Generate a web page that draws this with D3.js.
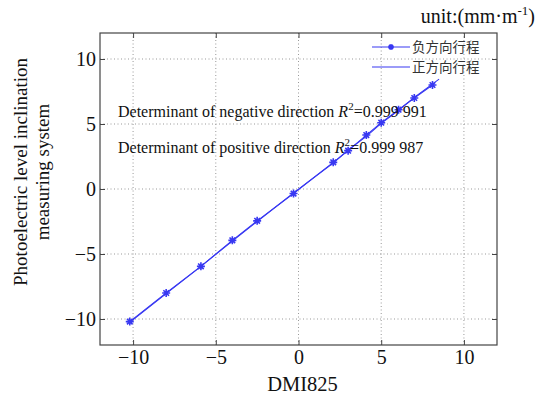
<!DOCTYPE html>
<html>
<head>
<meta charset="utf-8">
<script src="https://cdn.jsdelivr.net/npm/d3@7"></script>
<style>
  body { margin: 0; background: #fff; }
  svg { font-family: 'Liberation Serif', 'Times New Roman', serif; }
</style>
</head>
<body>
<svg id="chart" width="537" height="396"></svg>
<script>
// negative direction stroke (with markers)
const negX = [-10.2, -8.0, -5.9, -4.0, -2.5, -0.3, 2.1, 3.0, 4.1, 5.0, 6.05, 7.0, 8.1]
const negY = [-10.2, -8.0, -5.95, -3.95, -2.45, -0.35, 2.05, 2.95, 4.15, 5.1, 6.1, 7.0, 8.0]
// positive direction stroke (line only)
const posX = [-10.2, -8.0, -5.9, -4.0, -2.5, -0.3, 2.1, 3.0, 4.1, 5.0, 6.0, 7.0, 8.5]
const posY = [-10.25, -8.05, -5.95, -4.0, -2.5, -0.3, 2.0, 3.0, 4.05, 5.05, 6.0, 7.05, 8.45]

const xTicks = [-10, -5, 0, 5, 10]
const yTicks = [-10, -5, 0, 5, 10]
const seriesNames = ['负方向行程', '正方向行程']
const notes = [
  { label: 'Determinant of negative direction ', r2: '=0.999 991' },
  { label: 'Determinant of positive direction ', r2: '=0.999 987' }
]

const margin = { top: 33, right: 40, bottom: 51, left: 100 }
const width = 537 - margin.left - margin.right
const height = 396 - margin.top - margin.bottom
const blue = '#3838f2'

const svg = d3.select('#chart')
const g = svg.append('g')
  .attr('transform', 'translate(' + margin.left + ',' + margin.top + ')')

const x = d3.scaleLinear().domain([-12, 12]).range([0, width])
const y = d3.scaleLinear().domain([-12, 12]).range([height, 0])

// grid
g.append('g').selectAll('line')
  .data(xTicks).enter().append('line')
  .attr('x1', d => x(d)).attr('x2', d => x(d))
  .attr('y1', 0).attr('y2', height)
  .attr('stroke', '#999').attr('stroke-dasharray', '1,2.5')
g.append('g').selectAll('line')
  .data(yTicks).enter().append('line')
  .attr('y1', d => y(d)).attr('y2', d => y(d))
  .attr('x1', 0).attr('x2', width)
  .attr('stroke', '#999').attr('stroke-dasharray', '1,2.5')

// axes, ticks inward
const axisStyle = sel => {
  sel.select('.domain').remove()
  sel.selectAll('line').attr('stroke', '#444')
  sel.selectAll('text').attr('font-size', 20).attr('fill', '#111')
    .attr('font-family', 'Liberation Serif, serif')
}
const fmt = d => d < 0 ? '\u2212' + Math.abs(d) : '' + d

g.append('g').attr('transform', 'translate(0,' + height + ')')
  .call(d3.axisBottom(x).tickValues(xTicks).tickSizeInner(-5).tickSizeOuter(0).tickPadding(5).tickFormat(fmt))
  .call(axisStyle)
g.append('g')
  .call(d3.axisTop(x).tickValues(xTicks).tickSizeInner(-5).tickSizeOuter(0).tickFormat(''))
  .call(axisStyle)
g.append('g')
  .call(d3.axisLeft(y).tickValues(yTicks).tickSizeInner(-5).tickSizeOuter(0).tickPadding(4).tickFormat(fmt))
  .call(axisStyle)
g.append('g').attr('transform', 'translate(' + width + ',0)')
  .call(d3.axisRight(y).tickValues(yTicks).tickSizeInner(-5).tickSizeOuter(0).tickFormat(''))
  .call(axisStyle)

g.append('rect')
  .attr('width', width).attr('height', height)
  .attr('fill', 'none').attr('stroke', '#444').attr('stroke-width', 1.2)

// series
const line = d3.line().x(d => x(d[0])).y(d => y(d[1]))
const posData = posX.map((v, i) => [v, posY[i]])
const negData = negX.map((v, i) => [v, negY[i]])

g.append('path').datum(posData)
  .attr('d', line).attr('fill', 'none')
  .attr('stroke', blue).attr('stroke-width', 1.1)
g.append('path').datum(negData)
  .attr('d', line).attr('fill', 'none')
  .attr('stroke', blue).attr('stroke-width', 1.1)

function star (s) {
  const d = s * 0.7
  return 'M' + (-s) + ',0L' + s + ',0M0,' + (-s) + 'L0,' + s +
    'M' + (-d) + ',' + (-d) + 'L' + d + ',' + d +
    'M' + (-d) + ',' + d + 'L' + d + ',' + (-d)
}

g.append('g').selectAll('path')
  .data(negData).enter().append('path')
  .attr('transform', d => 'translate(' + x(d[0]) + ',' + y(d[1]) + ')')
  .attr('d', star(4))
  .attr('stroke', blue).attr('stroke-width', 1.6).attr('fill', 'none')

// legend
const legend = g.append('g').attr('transform', 'translate(' + (width - 125) + ',14)')
seriesNames.forEach((name, i) => {
  const row = legend.append('g').attr('transform', 'translate(0,' + (i * 20) + ')')
  row.append('line').attr('x1', 0).attr('x2', 38).attr('y1', 0).attr('y2', 0)
    .attr('stroke', blue).attr('stroke-width', 1.1)
  if (i === 0) {
    row.append('path').attr('transform', 'translate(19,0)')
      .attr('d', star(3)).attr('stroke', blue).attr('stroke-width', 1.5)
  }
  row.append('text').attr('x', 40).attr('y', 5)
    .attr('font-family', 'Noto Sans CJK SC, sans-serif')
    .attr('font-size', 13.5).attr('fill', '#333')
    .text(name)
})

// R² notes
notes.forEach((n, i) => {
  const t = g.append('text')
    .attr('x', 18).attr('y', 84 + i * 36)
    .attr('font-size', 16).attr('fill', '#111')
  t.append('tspan').text(n.label)
  t.append('tspan').attr('font-style', 'italic').text('R')
  t.append('tspan').attr('font-size', 11).attr('dy', -7).text('2')
  t.append('tspan').attr('dy', 7).text(n.r2)
})

// unit
const unit = svg.append('text').attr('x', 535).attr('y', 23)
  .attr('text-anchor', 'end').attr('font-size', 20).attr('fill', '#111')
unit.append('tspan').text('unit:(mm\u00b7m')
unit.append('tspan').attr('font-size', 13).attr('dy', -8).text('-1')
unit.append('tspan').attr('dy', 8).text(')')

// axis titles
svg.append('text')
  .attr('x', margin.left + x(0) + 4).attr('y', 391)
  .attr('text-anchor', 'middle').attr('font-size', 20.5).attr('fill', '#111')
  .text('DMI825')

const ylab = svg.append('text')
  .attr('transform', 'translate(27,172) rotate(-90)')
  .attr('text-anchor', 'middle').attr('font-size', 19).attr('fill', '#111')
ylab.append('tspan').attr('x', 0).attr('y', 0).text('Photoelectric level inclination')
ylab.append('tspan').attr('x', 0).attr('y', 22).text('measuring system')
</script>
</body>
</html>
